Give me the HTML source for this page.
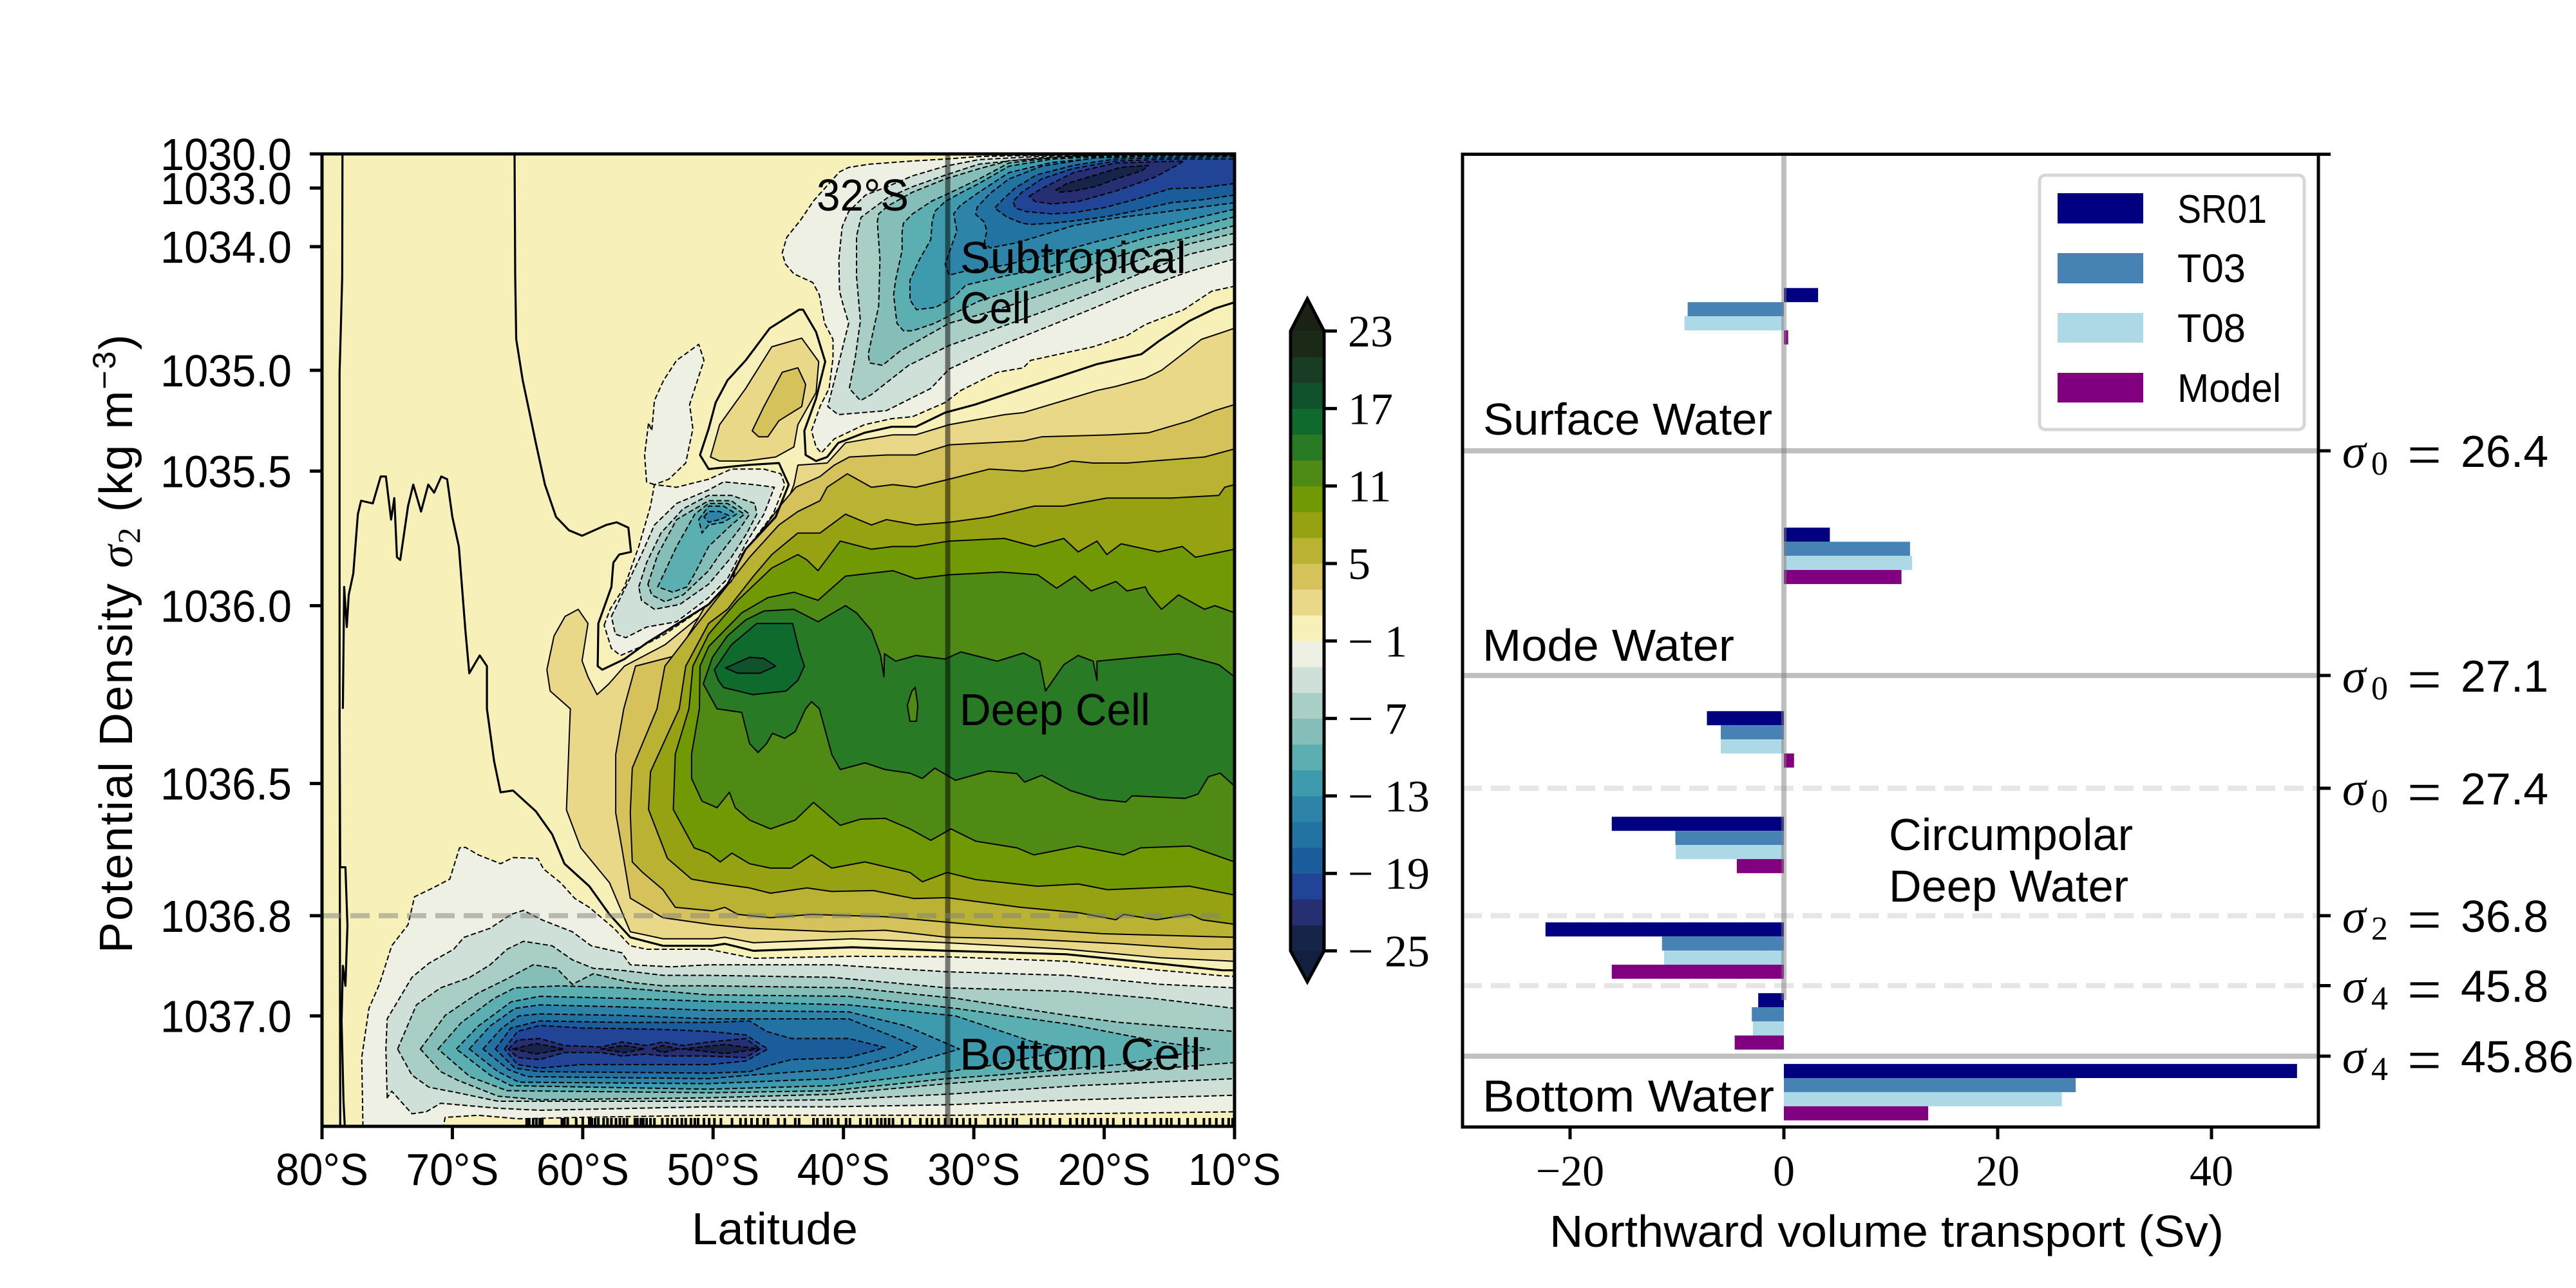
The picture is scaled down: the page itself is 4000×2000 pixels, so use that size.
<!DOCTYPE html>
<html lang="en">
<head>
<meta charset="utf-8">
<title>Overturning streamfunction and layer transports</title>
<style>
html,body{margin:0;padding:0;background:#fff;}
svg{display:block;}
text{font-family:"Liberation Sans",sans-serif;fill:#000;}
.serif{font-family:"Liberation Serif",serif;}
</style>
</head>
<body>
<svg id="figure" xmlns="http://www.w3.org/2000/svg" width="4000" height="2000" viewBox="0 0 4000 2000">
  <rect x="0" y="0" width="4000" height="2000" fill="#fff"/>
  <defs>
    <clipPath id="left-clip"><rect x="500" y="239" width="1417" height="1510"/></clipPath>
  </defs>
  <g id="contour-panel">
    <rect x="500" y="239" width="1417" height="1510" fill="#f7f1b9"/>
    <g id="contour-fills" clip-path="url(#left-clip)"></g>
    <g id="zero-lines" clip-path="url(#left-clip)"></g>
    <g id="bottom-marks" clip-path="url(#left-clip)"></g>
    <g id="left-refs"></g>
    <text x="1268" y="327" font-size="70" textLength="143" lengthAdjust="spacingAndGlyphs">32°S</text>
    <text x="1491" y="424" font-size="70" textLength="351" lengthAdjust="spacingAndGlyphs">Subtropical</text>
    <text x="1491" y="502" font-size="70" textLength="109" lengthAdjust="spacingAndGlyphs">Cell</text>
    <text x="1490" y="1126" font-size="70" textLength="296" lengthAdjust="spacingAndGlyphs">Deep Cell</text>
    <text x="1490" y="1661" font-size="70" textLength="375" lengthAdjust="spacingAndGlyphs">Bottom Cell</text>
    <g id="left-axes"></g>
    <text x="1074" y="1932" font-size="70" textLength="258" lengthAdjust="spacingAndGlyphs">Latitude</text>
    <text transform="translate(205,1480) rotate(-90)" font-size="72" letter-spacing="2.1">Potential Density <tspan class="serif" font-style="italic">σ</tspan><tspan class="serif" font-size="50" dy="12">2</tspan><tspan dy="-12"> (kg m</tspan><tspan font-size="50" dy="-26">−3</tspan><tspan dy="26">)</tspan></text>
  </g>
  <g id="colorbar"></g>
  <g id="transport-panel">
    <g id="bars"></g>
    <g id="right-refs"></g>
    <text x="2303" y="675" font-size="70" textLength="449" lengthAdjust="spacingAndGlyphs">Surface Water</text>
    <text x="2302" y="1026" font-size="70" textLength="391" lengthAdjust="spacingAndGlyphs">Mode Water</text>
    <text x="2933" y="1320" font-size="70" textLength="379" lengthAdjust="spacingAndGlyphs">Circumpolar</text>
    <text x="2933" y="1400" font-size="70" textLength="372" lengthAdjust="spacingAndGlyphs">Deep Water</text>
    <text x="2302" y="1726" font-size="70" textLength="453" lengthAdjust="spacingAndGlyphs">Bottom Water</text>
    <g id="legend">
      <rect x="3167" y="272" width="411" height="395" rx="9" fill="#fff" stroke="#d6d6d6" stroke-width="5"/>
      <g><rect x="3195" y="300" width="133" height="47" fill="#000080"/><text x="3381" y="346" font-size="62" textLength="139" lengthAdjust="spacingAndGlyphs">SR01</text></g>
      <g><rect x="3195" y="393" width="133" height="47" fill="#4682b4"/><text x="3381" y="438" font-size="62" textLength="106" lengthAdjust="spacingAndGlyphs">T03</text></g>
      <g><rect x="3195" y="486" width="133" height="46" fill="#add8e6"/><text x="3381" y="531" font-size="62" textLength="106" lengthAdjust="spacingAndGlyphs">T08</text></g>
      <g><rect x="3195" y="579" width="133" height="46" fill="#800080"/><text x="3381" y="624" font-size="62" textLength="161" lengthAdjust="spacingAndGlyphs">Model</text></g>
    </g>
    <g id="right-axes"></g>
    <text x="2406" y="1936" font-size="70" textLength="1047" lengthAdjust="spacingAndGlyphs">Northward volume transport (Sv)</text>
  </g>
</svg>
<script>
// ---------- Transport bar chart data (Sv) ----------
const layerNames = ['surface', 'mode', 'cdw-upper', 'cdw-middle', 'cdw-lower', 'cdw-deep', 'bottom'];
const layerAxisCentres = [16.66, 41.3, 60.17, 71.03, 81.89, 89.17, 96.45];
const sr01Transport = [3.2, 4.3, -7.2, -16.1, -22.3, -2.4, 48];
const t03Transport = [-9, 11.8, -5.9, -10.15, -11.4, -3, 27.3];
const t08Transport = [-9.3, 12, -5.9, -10.1, -11.2, -2.9, 26];
const modelTransport = [0.4, 11, 0.95, -4.4, -16.1, -4.6, 13.5];
const transportTicks = [-20, 0, 20, 40];
const boundaryAxisValues = [30.5, 53.6, 65.2, 78.3, 85.5, 92.75];
const boundaryKinds = ['solid', 'solid', 'dashed', 'dashed', 'dashed', 'solid'];
const boundarySigmaIndex = ['0', '0', '0', '2', '4', '4'];
const boundaryLabels = ['26.4', '27.1', '27.4', '36.8', '45.8', '45.86'];

// ---------- Streamfunction axes data ----------
const latitudeTicks = [80, 70, 60, 50, 40, 30, 20, 10];
const densityTicks = [1030, 1033, 1034, 1035, 1035.5, 1036, 1036.5, 1036.8, 1037];
const densityTickLabels = ['1030.0', '1033.0', '1034.0', '1035.0', '1035.5', '1036.0', '1036.5', '1036.8', '1037.0'];
const colorbarTicks = [23, 17, 11, 5, -1, -7, -13, -19, -25];
const referenceLatitude = [32];
const referenceDensity = [1036.8];

// ---------- Contour rings: flat lists of latitude (deg S), sigma2 pairs ----------
const p01Rings = [
[10,1034.66,12.55,1034.75,14,1034.87,15.6,1035,16.85,1035.04,19.1,1035.08,20.55,1035.1,23.1,1035.15,26.2,1035.21,27.65,1035.22,31.9,1035.27,34.45,1035.32,36.2,1035.32,38.1,1035.34,39.85,1035.36,40.55,1035.41,41.25,1035.46,43.5,1035.47,43.8,1035.55,44.2,1035.6,45.2,1035.68,46.9,1035.77,48.1,1035.87,49.2,1035.945,50.34,1036.01,53.7,1036.11,56.8,1036.17,58,1036.22,58.9,1036.25,59.6,1036.2,60.05,1036.155,59.6,1036.05,60.35,1036.01,61.35,1036.03,62.2,1036.085,62.75,1036.18,62.5,1036.24,60.95,1036.29,61.25,1036.56,60.15,1036.646,57.95,1036.725,56.35,1036.832,53.85,1036.846,50.06,1036.846,49.1,1036.843,46.9,1036.854,39.3,1036.846,32.05,1036.854,22.9,1036.867,15.65,1036.884,10,1036.891],
[50.2,1035.43,49.5,1035.27,47.5,1035.09,45.5,1034.81,43.2,1034.74,41.9,1034.93,42.1,1035.11,43.5,1035.27,43.8,1035.38,45.2,1035.43,47.5,1035.45,49.5,1035.45]
];
const p03Rings = [
[10,1035.17,11.5,1035.2,13.45,1035.25,16.6,1035.31,19.55,1035.32,24.8,1035.33,26.2,1035.35,31.9,1035.37,34.45,1035.42,36.7,1035.42,39.55,1035.43,40.7,1035.47,41.8,1035.52,43.65,1035.56,44.7,1035.62,46.1,1035.71,47.5,1035.79,50.34,1035.98,52.8,1036.14,55.95,1036.17,56.85,1036.29,57.47,1036.418,57.47,1036.567,57,1036.646,56.35,1036.76,53.85,1036.804,50.06,1036.818,47.2,1036.825,40.9,1036.832,36.8,1036.829,32.05,1036.843,26.4,1036.846,18.8,1036.856,12.5,1036.867,10,1036.867],
[47,1035.3,46.1,1035.18,44.7,1035.01,43.5,1034.98,42.9,1035.07,43.2,1035.18,44.95,1035.25,45.8,1035.33,46.5,1035.33]
];
const p05Rings = [
[10,1035.39,12.3,1035.43,16.3,1035.45,18.25,1035.46,20.85,1035.46,22.5,1035.45,24,1035.48,26.2,1035.5,28.8,1035.49,31.9,1035.53,34.45,1035.56,36.2,1035.55,37.85,1035.56,39.7,1035.51,41.25,1035.56,41.8,1035.61,43.5,1035.65,44.95,1035.7,47.2,1035.82,50.34,1036.01,53.7,1036.17,54.3,1036.29,56.2,1036.457,56.35,1036.567,56.2,1036.678,55.4,1036.702,53.85,1036.741,52.9,1036.781,50.06,1036.789,49.1,1036.781,48.1,1036.797,45.6,1036.804,42.45,1036.797,36.8,1036.802,32.05,1036.813,28.3,1036.822,20.1,1036.836,10,1036.843]
];
const p07Rings = [
[10,1035.55,10.75,1035.56,11.2,1035.59,14.85,1035.6,18.25,1035.6,19.8,1035.6,23.1,1035.63,25.35,1035.63,28.8,1035.67,31.9,1035.69,34.45,1035.7,36.7,1035.68,37.85,1035.7,39.85,1035.66,41.8,1035.73,43.5,1035.73,45.5,1035.81,46.9,1035.89,48.9,1036.01,50.34,1036.05,52.1,1036.17,52.6,1036.29,54.8,1036.467,54.95,1036.559,53.5,1036.67,51.65,1036.717,50.06,1036.725,47.2,1036.737,45.6,1036.749,42.8,1036.737,40.9,1036.745,37.7,1036.743,34.6,1036.761,32.05,1036.759,26.4,1036.781,22,1036.793,19.1,1036.808,18.5,1036.797,16,1036.808,13.4,1036.797,12.5,1036.808,10,1036.817]
];
const p09Rings = [
[10,1035.79,13,1035.82,14,1035.78,15.85,1035.8,18.7,1035.77,19.8,1035.81,20.55,1035.76,22,1035.8,23.1,1035.75,25.35,1035.78,27.65,1035.75,31.9,1035.76,34.45,1035.78,36.2,1035.78,37.85,1035.79,40.25,1035.76,41.95,1035.87,42.8,1035.83,43.5,1035.81,45.5,1035.86,48.1,1035.98,50.34,1036.08,51.55,1036.17,51.85,1036.29,52.9,1036.417,53.05,1036.559,51.45,1036.646,50.35,1036.658,49.45,1036.678,48.55,1036.658,47.2,1036.682,45.6,1036.692,44,1036.692,42.45,1036.662,40.9,1036.692,38.35,1036.678,34.9,1036.702,33.95,1036.723,32.05,1036.702,29.85,1036.718,25.1,1036.733,22,1036.728,19.75,1036.741,13.45,1036.733,10,1036.753]
];
const p11Rings = [
[10,1036.02,11.5,1036,12.3,1036.01,14.3,1035.96,15.6,1036.01,16.6,1035.955,16.85,1035.93,18.25,1035.945,19.1,1035.91,21,1035.945,22.25,1035.89,23.65,1035.935,25.1,1035.885,27.9,1035.875,31.9,1035.885,34.45,1035.9,36.2,1035.87,39.85,1035.89,41.95,1035.98,43.8,1035.95,45.8,1035.97,47.8,1036.02,50.34,1036.115,51,1036.17,51.05,1036.29,51.65,1036.417,51.65,1036.486,50.85,1036.54,49.7,1036.555,48.75,1036.52,48.3,1036.555,47.2,1036.583,45.6,1036.603,43.7,1036.583,42.3,1036.543,40.25,1036.595,38.7,1036.581,36.8,1036.579,34.9,1036.603,33.3,1036.629,31.75,1036.603,29.85,1036.631,26.7,1036.646,25.4,1036.662,22,1036.642,18.5,1036.662,17.2,1036.646,13.45,1036.642,10,1036.678]
];
const p13Rings = [
[10,1036.2,11.2,1036.166,14.3,1036.135,17.7,1036.146,20.55,1036.156,20.55,1036.21,20.85,1036.156,22,1036.14,23.1,1036.166,24.5,1036.24,24.95,1036.156,26.2,1036.133,28.2,1036.156,31,1036.13,32.2,1036.15,34.45,1036.14,36,1036.156,36.85,1036.135,36.9,1036.2,37.15,1036.14,37.85,1036.07,39,1036.02,39.85,1036,41.25,1036.03,41.95,1036.045,43.8,1036.01,46.1,1036.015,47.5,1036.04,48.9,1036.085,50.05,1036.145,50.75,1036.22,49.7,1036.29,47.8,1036.3,47.2,1036.388,46.55,1036.413,45.9,1036.388,45.45,1036.359,44.5,1036.373,43.7,1036.354,42.9,1036.29,42.45,1036.27,41.85,1036.29,40.9,1036.418,40.25,1036.461,38.35,1036.442,36.8,1036.461,34.9,1036.471,33.95,1036.486,33,1036.457,31.4,1036.491,28.9,1036.465,26.7,1036.472,26.1,1036.496,24.8,1036.477,22.6,1036.516,20.4,1036.536,18.35,1036.542,17.85,1036.528,13.8,1036.534,12.8,1036.524,12,1036.481,11.1,1036.471,10,1036.506]
];
const p13HoleRings = [
[35.1,1036.28,34.75,1036.24,34.5,1036.23,34.3,1036.28,34.4,1036.325,34.9,1036.325]
];
const p15Rings = [
[49.9,1036.18,48.6,1036.11,46.65,1036.05,43.9,1036.05,43.4,1036.125,43,1036.17,43.5,1036.21,44.4,1036.24,46.95,1036.25,49.2,1036.23,49.6,1036.21]
];
const p17Rings = [
[49.05,1036.175,47.2,1036.145,46.1,1036.148,45.2,1036.17,46.4,1036.19,48.1,1036.19]
];
const n01Rings = [
[10,1030,10,1034.32,11.75,1034.36,13.9,1034.51,16.85,1034.63,18.25,1034.72,20.85,1034.81,25.65,1034.92,26.2,1034.98,28.2,1035.01,31,1035.1,32.2,1035.16,34.7,1035.23,36.3,1035.24,38.4,1035.27,40.7,1035.34,41.7,1035.41,42.1,1035.38,42.45,1035.3,41.8,1035.18,41.1,1035.09,40.8,1034.9,40.8,1034.75,41.45,1034.62,41.85,1034.39,42.35,1034.29,43.8,1034.22,44.45,1034.14,44.7,1034.05,44.35,1033.84,43.3,1033.55,42.3,1033.22,40.3,1031.58,39.6,1031.19,38,1030.9,34.7,1030.62,32.2,1030.45,29.6,1030.23,22,1030.05],
[54.5,1035.55,55.1,1035.54,55.25,1035.42,54.95,1035.26,54.7,1035.3,54.5,1035.15,53.8,1035.05,52.8,1034.92,51.1,1034.79,50.7,1034.92,51.8,1035.17,51.55,1035.29,52.1,1035.46,53.4,1035.53],
[58.36,1036.055,57.9,1036.01,56.8,1035.93,55.7,1035.78,54.8,1035.63,54.5,1035.55,52.8,1035.56,50.34,1035.53,48.6,1035.49,46.1,1035.49,44.8,1035.51,44.5,1035.55,45.4,1035.66,46.65,1035.74,47.8,1035.81,48.6,1035.91,50.34,1035.995,53.7,1036.08,55.5,1036.115,57.1,1036.14,57.8,1036.12],
[76.86,1037.22,76.95,1037.083,76.4,1036.985,75.6,1036.937,74.65,1036.86,73.4,1036.818,72.9,1036.757,71.5,1036.737,70.2,1036.717,69.45,1036.646,69,1036.645,68,1036.662,66.3,1036.682,65.35,1036.668,63.45,1036.67,63,1036.694,61.7,1036.725,60.6,1036.761,59.5,1036.781,57.6,1036.825,56.35,1036.86,55.1,1036.867,50.35,1036.867,46.9,1036.885,39.3,1036.881,32.05,1036.882,22.9,1036.891,15.65,1036.909,10.9,1036.92,10,1036.921,10,1037.191,31.4,1037.198,50.35,1037.198,60.15,1037.202,64.9,1037.205,68,1037.198,70.55,1037.202,70.7,1037.22]
];
const n03Rings = [
[10,1034.1,13.45,1034.2,17.7,1034.36,21.1,1034.51,25.35,1034.69,28.2,1034.81,31.9,1034.99,33.3,1035.09,36.7,1035.2,40.4,1035.22,41.2,1035.18,40.4,1034.96,39.6,1034.62,40,1034.48,40.3,1034.36,40.35,1034.1,40.1,1033.66,39.6,1033.4,38.3,1033.12,36.65,1032.88,34.7,1031.93,32.2,1031.08,29.6,1030.5,25,1030.22,20,1030.08,10,1030.03],
[57.8,1036.03,56.5,1035.91,55.5,1035.81,54.5,1035.7,52.8,1035.62,50.34,1035.57,49.2,1035.54,46.9,1035.55,45.3,1035.56,46.1,1035.66,47.5,1035.77,48.9,1035.9,50.34,1035.97,52.8,1036.045,55.1,1036.06,56.7,1036.09,57.5,1036.08],
[75,1037.163,75.1,1037.066,75,1037.006,73.1,1036.923,71.8,1036.895,69.9,1036.867,69.1,1036.843,67.1,1036.825,65.5,1036.797,64.55,1036.788,63.15,1036.808,60.8,1036.832,59.35,1036.86,57,1036.874,56.35,1036.898,53.2,1036.902,50.35,1036.898,40.9,1036.898,32.05,1036.912,22.9,1036.919,15.65,1036.937,10,1036.944,10,1037.158,22,1037.167,32.05,1037.177,40.9,1037.181,50.35,1037.181,63.3,1037.188,66.5,1037.184,70.9,1037.174,72,1037.191,73.1,1037.195,74.65,1037.15]
];
const n05Rings = [
[10,1033.95,13.45,1034.06,16.85,1034.2,20.55,1034.36,24.8,1034.53,28.2,1034.66,31.9,1034.8,35,1034.96,37.85,1035.12,38.7,1035.15,39.55,1035.09,39.1,1034.9,38.7,1034.6,39,1034.24,39,1033.82,38.65,1033.5,36.65,1033.17,34.7,1032.88,32.2,1031.87,29.6,1030.9,25,1030.35,20,1030.12,10,1030.05],
[55.7,1035.93,55.1,1035.84,54,1035.73,52.3,1035.64,50.34,1035.59,48.6,1035.59,46.8,1035.62,46.65,1035.66,47.4,1035.73,48.6,1035.82,50.34,1035.92,52.55,1035.995,54.5,1036.01,55.5,1035.98],
[74.2,1037.066,72.76,1036.978,70.9,1036.944,68.66,1036.923,67.1,1036.898,65.8,1036.867,64.55,1036.851,62.35,1036.86,60.8,1036.888,59.2,1036.905,57,1036.909,53.85,1036.919,50.35,1036.919,40.9,1036.923,32.05,1036.944,22.6,1036.951,16.3,1036.965,10,1036.985,10,1037.125,22,1037.139,32.05,1037.156,40.9,1037.167,50.35,1037.17,66.5,1037.17,69.6,1037.153,71.8,1037.142,73.1,1037.118]
];
const n07Rings = [
[10,1033.77,13.45,1033.95,16.85,1034.09,20.55,1034.24,24.8,1034.39,28.2,1034.51,31.9,1034.62,35.6,1034.84,37,1034.96,38,1034.94,38.1,1034.87,37.3,1034.48,37.2,1034.1,37.4,1033.58,37.3,1033.44,36.55,1033.3,34.7,1033.07,32.2,1032.2,29.6,1031.3,27.3,1030.6,22,1030.2,10,1030.06],
[55,1035.92,54.25,1035.81,52.8,1035.68,50.34,1035.61,48.6,1035.61,47.2,1035.66,47.9,1035.71,49.5,1035.81,50.34,1035.87,52.3,1035.96,53.7,1035.985,54.7,1035.96],
[72.45,1037.066,70.55,1036.999,68,1036.954,65.8,1036.926,63.8,1036.898,62,1036.905,60.8,1036.937,59.2,1036.916,56.35,1036.933,53.85,1036.94,50.35,1036.94,39.3,1036.944,31.4,1036.965,22.6,1037,18.8,1037.013,10,1037.031,10,1037.093,18.8,1037.111,25.1,1037.121,32.05,1037.135,40.9,1037.156,50.35,1037.163,63.3,1037.167,66.5,1037.16,69.6,1037.128,70.9,1037.111]
];
const n09Rings = [
[10,1033.64,13.45,1033.84,16.85,1034.01,20.55,1034.13,24.8,1034.28,29.6,1034.44,31.7,1034.55,33,1034.62,34.7,1034.68,35.4,1034.68,35.9,1034.62,36.15,1034.39,36,1034.27,35.5,1034.03,35.5,1033.75,35.4,1033.6,34.7,1033.44,33.2,1033.22,32.2,1033.12,29.6,1032.2,27.3,1030.8,24,1030.35,19.1,1030.14,10,1030.08],
[54.25,1035.93,52.8,1035.78,51.4,1035.66,50.34,1035.62,48.9,1035.62,47.6,1035.66,48.6,1035.7,50.34,1035.78,51.4,1035.88,52,1035.93,53.1,1035.95],
[71.1,1037.066,69.3,1037.013,66.8,1036.965,65.2,1036.944,61.7,1036.94,57,1036.944,50.35,1036.958,39.6,1036.961,31.4,1036.985,22.6,1037.017,15.65,1037.052,11.9,1037.066,15.65,1037.083,18.8,1037.097,28.3,1037.118,32.05,1037.125,40.9,1037.149,50.35,1037.153,65.8,1037.149,68.66,1037.121]
];
const n11Rings = [
[10,1033.49,13.45,1033.69,16.85,1033.85,20.55,1034.05,24.8,1034.18,27.3,1034.23,30.6,1034.31,31.55,1034.41,32.9,1034.49,34.4,1034.51,34.9,1034.43,34.9,1034.27,34.2,1034.11,33.3,1033.88,33.2,1033.58,33,1033.4,32.2,1033.23,30.9,1033.07,29.6,1032.6,27.3,1031.08,24,1030.45,19.1,1030.17,10,1030.1],
[51.1,1035.68,50.34,1035.63,49.2,1035.63,48.2,1035.66,49.2,1035.69,50.34,1035.7,50.85,1035.73],
[69.7,1037.066,68,1037.02,65.5,1036.972,63.3,1036.961,57,1036.965,50.35,1036.971,39.6,1036.978,31.4,1037,28.3,1037.027,25.1,1037.055,22.3,1037.066,28.3,1037.097,32.05,1037.111,40.9,1037.139,50.35,1037.146,65.5,1037.139,67.1,1037.118]
];
const n13Rings = [
[10,1033.36,13.45,1033.54,16.85,1033.71,20.55,1033.91,24.8,1034.08,27.65,1034.15,30.75,1034.2,31.9,1034.23,32.2,1034.14,31.3,1033.73,31.55,1033.44,31.05,1033.3,29.6,1033.07,27.3,1031.64,24,1030.74,19.1,1030.23,10,1030.12],
[50.7,1035.67,50.34,1035.65,49.5,1035.65,48.8,1035.665,49.5,1035.68,50.34,1035.69],
[68.7,1037.066,67.1,1037.02,65.2,1036.985,63.3,1036.978,57,1036.982,50.35,1036.989,39.6,1036.992,35.2,1037.02,31.1,1037.066,35.2,1037.097,40.9,1037.125,50.35,1037.135,64.9,1037.132,66.5,1037.111]
];
const n15Rings = [
[10,1033.25,15.8,1033.42,19.1,1033.51,22.35,1033.64,25,1033.82,26.65,1033.93,28.75,1034.01,29.2,1033.93,29,1033.73,29.2,1033.58,29.85,1033.45,29.75,1033.33,28.75,1033.09,27.3,1032.2,24.8,1031.08,20.7,1030.34,14.15,1030.15,10,1030.14],
[67.65,1037.066,66.2,1037.024,64.9,1037,63.3,1036.996,57,1036.999,50.35,1037.006,39.6,1037.006,36.2,1037.041,34.3,1037.063,36.2,1037.083,39.6,1037.104,47.2,1037.118,50.35,1037.125,64.25,1037.121,65.7,1037.107]
];
const n17Rings = [
[10,1033.12,12.5,1033.2,14.9,1033.25,17.4,1033.38,19.9,1033.49,22.35,1033.56,24,1033.6,25.65,1033.62,26.3,1033.6,27.5,1033.49,28.4,1033.34,27.8,1033.2,26.8,1032.98,25.2,1031.85,22.35,1031,19.1,1030.44,14.15,1030.3,10,1030.24],
[66.7,1037.066,65.5,1037.024,63.3,1037.01,57,1037.013,50.35,1037.013,47.2,1037.01,45.9,1037.031,44,1037.045,39.6,1037.045,36.8,1037.063,39.6,1037.083,44,1037.087,45.9,1037.1,47.2,1037.111,50.35,1037.114,63.3,1037.111,65.2,1037.104]
];
const n19Rings = [
[10,1032.6,12.5,1032.98,14.9,1033.01,17.4,1033.18,19.9,1033.33,22.35,1033.42,24,1033.44,26,1033.4,26.8,1033.34,27,1033.23,26.3,1033.07,24.8,1032.2,22.35,1031.28,19.1,1030.62,14.15,1030.44,10,1030.44],
[66,1037.066,65,1037.031,63.3,1037.019,60.15,1037.024,53.85,1037.027,50.35,1037.031,47.5,1037.038,45.8,1037.066,47.5,1037.09,50.35,1037.097,53.85,1037.097,60.15,1037.097,63.3,1037.104,65,1037.097]
];
const n21Rings = [
[25.75,1033.14,24.8,1033.01,22.35,1031.64,19.1,1030.8,13.9,1030.62,14.45,1031.02,16.1,1032.04,19.1,1033.05,22,1033.23,24,1033.27,25.3,1033.23],
[65.7,1037.066,65,1037.048,63.3,1037.045,61.4,1037.059,58.6,1037.062,57,1037.052,55.1,1037.059,53.85,1037.052,52.3,1037.059,50.35,1037.052,47.5,1037.045,46.4,1037.066,47.5,1037.083,50.7,1037.08,53.85,1037.08,55.1,1037.076,57,1037.08,58.6,1037.073,61.4,1037.073,63.3,1037.087,65,1037.083]
];
const n23Rings = [
[23.7,1033.03,22.85,1032.6,20.7,1031.87,18.75,1031.19,16.6,1031,17.1,1031.47,19.1,1032.2,20.7,1032.88,22.35,1033.05,23.4,1033.07],
[65.35,1037.066,63.6,1037.055,61.4,1037.066,63.6,1037.076],
[58.6,1037.066,56.85,1037.059,55.25,1037.066,56.85,1037.073],
[54.65,1037.066,53.85,1037.059,52.6,1037.066,53.85,1037.073],
[52.4,1037.066,49.1,1037.057,46.4,1037.066,49.1,1037.075]
];
const zeroLineFront = [65.23,1030,65.18,1034.24,65.1,1034.75,64.6,1035.05,64.05,1035.22,63.6,1035.36,62.9,1035.55,62.05,1035.67,61.05,1035.72,60.05,1035.74,58.2,1035.7,57.4,1035.69,56.5,1035.71,56.3,1035.8,57.2,1035.81,57.65,1035.84,57.8,1035.93,58.8,1036.05,58.85,1036.17,58.5,1036.18,56.8,1036.15,55.1,1036.105,50.34,1035.995,48.9,1035.92,47.5,1035.79,45.2,1035.67,44.2,1035.55,44.95,1035.46,47.5,1035.47,50.34,1035.49,51,1035.42,50.34,1035.29,49.8,1035.16,48.9,1035.05,47.5,1034.92,45.65,1034.66,43.4,1034.51,43.1,1034.51,42.1,1034.69,41.4,1034.93,42.1,1035.14,43,1035.3,42.9,1035.42,42.1,1035.45,41.25,1035.43,40.4,1035.36,38.4,1035.31,36.3,1035.28,34.45,1035.28,32.2,1035.21,29.9,1035.17,26.2,1035.09,20.55,1034.95,17.15,1034.87,15.75,1034.76,13.45,1034.6,11.5,1034.5,10,1034.45];
const zeroLineAbyssal = [78.4,1036.29,78.3,1035.93,78.1,1036.06,77.95,1035.96,77.6,1035.88,77.25,1035.66,77,1035.61,76.1,1035.62,75.5,1035.52,75.1,1035.52,74.7,1035.68,74.45,1035.6,74.25,1035.82,74,1035.83,73.4,1035.63,73,1035.55,72.4,1035.65,71.85,1035.55,71.4,1035.58,70.85,1035.52,70.4,1035.53,70,1035.67,69.5,1035.78,69,1036.07,68.7,1036.19,67.9,1036.14,67.35,1036.17,67.35,1036.29,66.8,1036.437,66.3,1036.52,65.35,1036.516,63.6,1036.563,62.35,1036.615,61.4,1036.682,59.5,1036.733,57.95,1036.797,56.35,1036.843,53.85,1036.86,50.06,1036.86,49.1,1036.856,46.9,1036.87,39.3,1036.863,32.05,1036.87,22.9,1036.877,15.65,1036.896,10.9,1036.909,10,1036.909];
const zeroLineWall = [78.43,1030,78.45,1034.24,78.6,1034.84,78.65,1035.01,78.65,1036.29,78.6,1036.69,78.2,1036.69,78.05,1036.82,78.2,1036.94,78.4,1036.9,78.5,1037.01,78.35,1037.17,78.25,1037.22];
const zeroLineWallInner = [78.65,1036.29,78.6,1037.22];
const seafloorLatitudes = [64.3,64.1,63.8,63.55,63.3,63.1,61.6,61.4,61.15,60.5,60,59.5,59.3,59.05,58.8,58.4,58.1,57.8,57.45,57.15,56.85,56.6,56,55.8,55.55,55.35,55.1,54.8,54.5,53.9,53.5,53.15,52.75,52.4,52.1,51.7,51.4,51.15,50.7,50.3,49.9,49.4,48.55,47.9,47.5,47.05,46.6,46.1,45.8,45,44.5,43.7,43.4,42.3,42,41.5,41.2,40.9,40.4,39.8,39.5,38.7,38.2,37.9,37.4,37.1,36.8,36.5,36.2,35.5,34.9,34.1,33.6,33.2,32.7,32.2,31.7,31.3,30.8,30.3,29.85,28.9,28.4,27.95,27.5,27,26.7,25.6,25.1,24.65,24.15,23.4,22.6,22.1,21.65,21.2,20.7,20.25,19.75,19.3,18.5,18,17.4,16.8,16.15,15.65,15.2,14.85,14.25,13.6,13,12.35,11.9,11.4,10.9,10.45,10.15];

// ---------- Colour bands from -25 to 23 in steps of 2 ----------
const bandColors = ['#172449','#252f72','#224496','#1b5c9b','#2272a2','#2d84a8','#3e9bad','#5bafb1','#85bdb8','#a9cec6','#cfe0d8','#eef0e3','#f7f1b9','#e8d888','#d5c25a','#b9b232','#96a211','#719904','#4e8a14','#287a24','#0f6a2e','#10522c','#193d24','#1b2a16'];
const underColor = '#131f3f';
const overColor = '#1a2213';
const positiveLevels = [[1,p01Rings],[3,p03Rings],[5,p05Rings],[7,p07Rings],[9,p09Rings],[11,p11Rings],[13,p13Rings],[15,p15Rings],[17,p17Rings]];
const negativeLevels = [[-1,n01Rings],[-3,n03Rings],[-5,n05Rings],[-7,n07Rings],[-9,n09Rings],[-11,n11Rings],[-13,n13Rings],[-15,n15Rings],[-17,n17Rings],[-19,n19Rings],[-21,n21Rings],[-23,n23Rings]];

// ---------- Axis functions ----------
const SVGNS = 'http://www.w3.org/2000/svg';
function make(tag, attrs) {
  const el = document.createElementNS(SVGNS, tag);
  for (const k in attrs) { el.setAttribute(k, attrs[k]); }
  return el;
}
function xLat(latS) { return 500 + (80 - latS) * (1417 / 70); }
function ySigma(s) {
  const sig = [1030, 1033, 1034, 1035, 1035.5, 1036, 1036.5, 1036.8, 1037, 1037.22];
  const frac = [0, 0.0351, 0.0954, 0.2225, 0.3262, 0.4646, 0.6474, 0.7834, 0.8864, 1];
  let i = 0;
  while (i < sig.length - 2 && s > sig[i + 1]) { i++; }
  return 239 + 1510 * (frac[i] + (s - sig[i]) / (sig[i + 1] - sig[i]) * (frac[i + 1] - frac[i]));
}
function xSv(v) { return 2770 + v * 16.6; }
function yLayer(u) { return 239.5 + u * 15.1; }
function yBar(v) { return 514 + (23 - v) * (962.5 / 48); }
function bandColor(lo) { return bandColors[(lo + 25) / 2]; }
function ringPath(r, close) {
  let d = '';
  for (let i = 0; i < r.length; i += 2) {
    d += (i ? 'L' : 'M') + xLat(r[i]).toFixed(1) + ' ' + ySigma(r[i + 1]).toFixed(1);
  }
  return d + (close ? 'Z' : '');
}

// ---------- Contour fills ----------
const fills = document.getElementById('contour-fills');
positiveLevels.forEach(function (entry) {
  entry[1].forEach(function (ring) {
    const el = make('path', { d: ringPath(ring, true), fill: bandColor(entry[0]), stroke: '#000', 'stroke-width': 2, 'stroke-linejoin': 'round' });
    
    
    fills.appendChild(el);
  });
  if (entry[0] === 13) {
    p13HoleRings.forEach(function (ring) {
      const hole = make('path', { d: ringPath(ring, true), fill: bandColor(11), stroke: '#000', 'stroke-width': 2 });
      
      
      fills.appendChild(hole);
    });
  }
});
negativeLevels.forEach(function (entry) {
  entry[1].forEach(function (ring) {
    const el = make('path', { d: ringPath(ring, true), fill: bandColor(entry[0] - 2), stroke: '#000', 'stroke-width': 2, 'stroke-dasharray': '8 4', 'stroke-linejoin': 'round' });
    
    
    fills.appendChild(el);
  });
});

// ---------- Zero contours ----------
const zeroGroup = document.getElementById('zero-lines');
[zeroLineFront, zeroLineAbyssal, zeroLineWall, zeroLineWallInner].forEach(function (line) {
  const el = make('path', { d: ringPath(line, false), fill: 'none', stroke: '#000', 'stroke-width': 3.2, 'stroke-linejoin': 'round' });
  
  
  zeroGroup.appendChild(el);
});

// ---------- Seafloor marks ----------
const marks = document.getElementById('bottom-marks');
seafloorLatitudes.forEach(function (lat) {
  const el = make('line', { x1: xLat(lat), x2: xLat(lat), y1: 1736, y2: 1749, stroke: '#000', 'stroke-width': 4 });
  
  
  marks.appendChild(el);
});

// ---------- Left reference lines ----------
const leftRefs = document.getElementById('left-refs');
referenceLatitude.forEach(function (lat) {
  const el = make('line', { x1: xLat(lat), x2: xLat(lat), y1: 239, y2: 1749, stroke: '#000', 'stroke-opacity': 0.5, 'stroke-width': 8 });
  
  
  leftRefs.appendChild(el);
});
referenceDensity.forEach(function (s) {
  const el = make('line', { x1: 500, x2: 1900, y1: ySigma(s), y2: ySigma(s), stroke: '#808080', 'stroke-opacity': 0.5, 'stroke-width': 8, 'stroke-dasharray': '30 14' });
  
  
  leftRefs.appendChild(el);
});

// ---------- Left axes ----------
const leftAxes = document.getElementById('left-axes');
const leftFrame = make('rect', { x: 500, y: 239, width: 1417, height: 1510, fill: 'none', stroke: '#000', 'stroke-width': 5 });


leftAxes.appendChild(leftFrame);
latitudeTicks.forEach(function (lat) {
  const t = make('line', { x1: xLat(lat), x2: xLat(lat), y1: 1749, y2: 1769, stroke: '#000', 'stroke-width': 5 });
  
  
  leftAxes.appendChild(t);
  const l = make('text', { x: xLat(lat), y: 1840, 'font-size': 70, 'text-anchor': 'middle', textLength: 144, lengthAdjust: 'spacingAndGlyphs' });
  
  
  l.textContent = lat + '°S';
  leftAxes.appendChild(l);
});
densityTicks.forEach(function (s, i) {
  const t = make('line', { x1: 481, x2: 500, y1: ySigma(s), y2: ySigma(s), stroke: '#000', 'stroke-width': 5 });
  
  
  leftAxes.appendChild(t);
  const l = make('text', { x: 453, y: ySigma(s) + 25, 'font-size': 70, 'text-anchor': 'end', textLength: 204, lengthAdjust: 'spacingAndGlyphs' });
  
  
  l.textContent = densityTickLabels[i];
  leftAxes.appendChild(l);
});

// ---------- Colorbar ----------
const cbar = document.getElementById('colorbar');
bandColors.forEach(function (c, i) {
  const lo = -25 + 2 * i;
  const el = make('rect', { x: 2004, y: yBar(lo + 2), width: 52, height: yBar(lo) - yBar(lo + 2) + 0.5, fill: c });
  
  
  cbar.appendChild(el);
});
const capTop = make('path', { d: 'M2004 ' + yBar(23) + 'L2030 ' + (yBar(23) - 50) + 'L2056 ' + yBar(23) + 'Z', fill: overColor });


cbar.appendChild(capTop);
const capBottom = make('path', { d: 'M2004 ' + yBar(-25) + 'L2030 ' + (yBar(-25) + 48) + 'L2056 ' + yBar(-25) + 'Z', fill: underColor });


cbar.appendChild(capBottom);
const cbarFrame = make('path', { d: 'M2004 ' + yBar(23) + 'L2030 ' + (yBar(23) - 50) + 'L2056 ' + yBar(23) + 'L2056 ' + yBar(-25) + 'L2030 ' + (yBar(-25) + 48) + 'L2004 ' + yBar(-25) + 'Z', fill: 'none', stroke: '#000', 'stroke-width': 5, 'stroke-linejoin': 'miter' });


cbar.appendChild(cbarFrame);
colorbarTicks.forEach(function (v) {
  const t = make('line', { x1: 2056, x2: 2076, y1: yBar(v), y2: yBar(v), stroke: '#000', 'stroke-width': 5 });
  
  
  cbar.appendChild(t);
  const l = make('text', { x: 2093, y: yBar(v) + 24, 'font-size': 70, 'class': 'serif' });
  
  
  l.textContent = (v < 0 ? '\u2212 ' : '') + Math.abs(v);
  cbar.appendChild(l);
});

// ---------- Transport bars ----------
const bars = document.getElementById('bars');
const seriesList = [['sr01', sr01Transport, '#000080'], ['t03', t03Transport, '#4682b4'], ['t08', t08Transport, '#add8e6'], ['model', modelTransport, '#800080']];
seriesList.forEach(function (series, s) {
  series[1].forEach(function (v, i) {
    const top = yLayer(layerAxisCentres[i] + (s - 2) * 1.45);
    const x0 = Math.min(xSv(0), xSv(v));
    const el = make('rect', { x: x0, y: top, width: Math.abs(xSv(v) - xSv(0)), height: 1.45 * 15.1, fill: series[2] });
    
    
    bars.appendChild(el);
  });
});

// ---------- Layer boundaries and zero line ----------
const rightRefs = document.getElementById('right-refs');
const zeroTransport = make('line', { x1: xSv(0), x2: xSv(0), y1: 239.5, y2: 1553, stroke: '#808080', 'stroke-opacity': 0.5, 'stroke-width': 8 });


rightRefs.appendChild(zeroTransport);
boundaryAxisValues.forEach(function (u, i) {
  const solid = boundaryKinds[i] === 'solid';
  const el = make('line', { x1: 2271, x2: 3600, y1: yLayer(u), y2: yLayer(u), stroke: '#808080', 'stroke-opacity': solid ? 0.5 : 0.2, 'stroke-width': 8, 'stroke-dasharray': solid ? 'none' : '30 14' });
  
  
  rightRefs.appendChild(el);
});

// ---------- Right axes ----------
const rightAxes = document.getElementById('right-axes');
const rightFrame = make('rect', { x: 2271, y: 239.5, width: 1329, height: 1510.5, fill: 'none', stroke: '#000', 'stroke-width': 5 });


rightAxes.appendChild(rightFrame);
transportTicks.forEach(function (v) {
  const t = make('line', { x1: xSv(v), x2: xSv(v), y1: 1750, y2: 1769, stroke: '#000', 'stroke-width': 5 });
  
  
  rightAxes.appendChild(t);
  const l = make('text', { x: xSv(v), y: 1841, 'font-size': 68, 'text-anchor': 'middle', 'class': 'serif' });
  
  
  l.textContent = (v < 0 ? '\u2212' : '') + Math.abs(v);
  rightAxes.appendChild(l);
});
const topTick = make('line', { x1: 3600, x2: 3619, y1: 239.5, y2: 239.5, stroke: '#000', 'stroke-width': 5 });


rightAxes.appendChild(topTick);
boundaryAxisValues.forEach(function (u, i) {
  const py = yLayer(u);
  const t = make('line', { x1: 3600, x2: 3619, y1: py, y2: py, stroke: '#000', 'stroke-width': 5 });
  
  
  rightAxes.appendChild(t);
  const sym = make('text', { x: 3637, y: py + 26, 'font-size': 74, 'font-style': 'italic', 'class': 'serif' });
  
  
  sym.textContent = 'σ';
  rightAxes.appendChild(sym);
  const sub = make('text', { x: 3682, y: py + 37, 'font-size': 52, 'class': 'serif' });
  
  
  sub.textContent = boundarySigmaIndex[i];
  rightAxes.appendChild(sub);
  const eq = make('text', { x: 3738, y: py + 38, 'font-size': 94, 'class': 'serif' });
  
  
  eq.textContent = '=';
  rightAxes.appendChild(eq);
  const val = make('text', { x: 3821, y: py + 25, 'font-size': 70 });
  
  
  val.textContent = boundaryLabels[i];
  rightAxes.appendChild(val);
});
</script>
</body>
</html>
